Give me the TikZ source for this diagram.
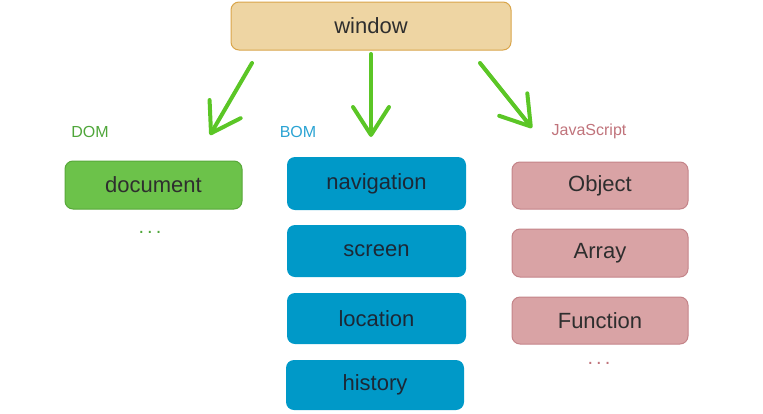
\documentclass[tikz,border=0pt]{standalone}
\usepackage{fontspec}
\setmainfont{Liberation Sans}
\usetikzlibrary{arrows.meta}
\definecolor{tanfill}{HTML}{EED5A3}
\definecolor{tanline}{HTML}{D9A54A}
\definecolor{greenfill}{HTML}{6CC24A}
\definecolor{greenline}{HTML}{58A83A}
\definecolor{bluefill}{HTML}{0099C8}
\definecolor{pinkfill}{HTML}{D9A3A5}
\definecolor{pinkline}{HTML}{C48489}
\definecolor{arrowgreen}{HTML}{5BC626}
\definecolor{domlabel}{HTML}{4FA63A}
\definecolor{bomlabel}{HTML}{2AA3D3}
\definecolor{jslabel}{HTML}{C0737B}
\definecolor{txtdark}{HTML}{2E2E2E}
\definecolor{txtnavy}{HTML}{1C2836}
\begin{document}
\begin{tikzpicture}[x=1pt,y=-1pt,
  box/.style={rounded corners=8pt, inner sep=0pt, font=\fontsize{22}{25}\selectfont, text=txtdark},
  winbox/.style={box, fill=tanfill, draw=tanline, line width=1pt, minimum width=280pt, minimum height=48pt},
  dombox/.style={box, fill=greenfill, draw=greenline, line width=1pt, minimum width=177pt, minimum height=48pt},
  bombox/.style={box, fill=bluefill, text=txtnavy, minimum width=179pt, minimum height=52pt},
  jsbox/.style={box, fill=pinkfill, draw=pinkline, line width=1pt, minimum width=176pt, minimum height=47pt},
  grouplabel/.style={font=\fontsize{16}{19}\selectfont, inner sep=0pt},
  dots/.style={font=\fontsize{20}{22}\selectfont, inner sep=0pt},
  bigarrow/.style={draw=arrowgreen, line width=4pt, line cap=round,
    -{Straight Barb[length=28pt,width=36pt,round]}}
]
\useasboundingbox (0,0) rectangle (763,413);

\node[winbox] (win) at (371,26) {window};

\node[grouplabel, text=domlabel] (domlab) at (90,132) {DOM};
\node[grouplabel, text=bomlabel] (bomlab) at (298,132) {BOM};
\node[grouplabel, text=jslabel] (jslab) at (589,131) {JavaScript};

\node[dombox] (doc) at (153.5,185) {document};
\node[dots, text=domlabel] (domdots) at (150,232) {.\hspace{3pt}.\hspace{3pt}.};

\node[bombox, minimum height=53pt] (nav) at (376.5,183.5) {navigation};
\node[bombox] (scr) at (376.5,251) {screen};
\node[bombox, minimum height=51pt] (loc) at (376.5,318.5) {location};
\node[bombox, minimum width=178pt, minimum height=50pt] (his) at (375,385) {history};

\node[jsbox] (obj) at (600,185.5) {Object};
\node[jsbox, minimum height=48pt] (arr) at (600,253) {Array};
\node[jsbox] (fun) at (600,320.5) {Function};
\node[dots, text=jslabel] (jsdots) at (599,363) {.\hspace{3pt}.\hspace{3pt}.};

\coordinate (a1s) at (252,63);
\coordinate (a1e) at (210,135);
\coordinate (a2s) at (371,54);
\coordinate (a2e) at (371,137);
\coordinate (a3s) at (480,63);
\coordinate (a3e) at (532,128);
\draw[bigarrow] (a1s) -- (a1e);
\draw[bigarrow] (a2s) -- (a2e);
\draw[bigarrow] (a3s) -- (a3e);
\end{tikzpicture}
\end{document}
